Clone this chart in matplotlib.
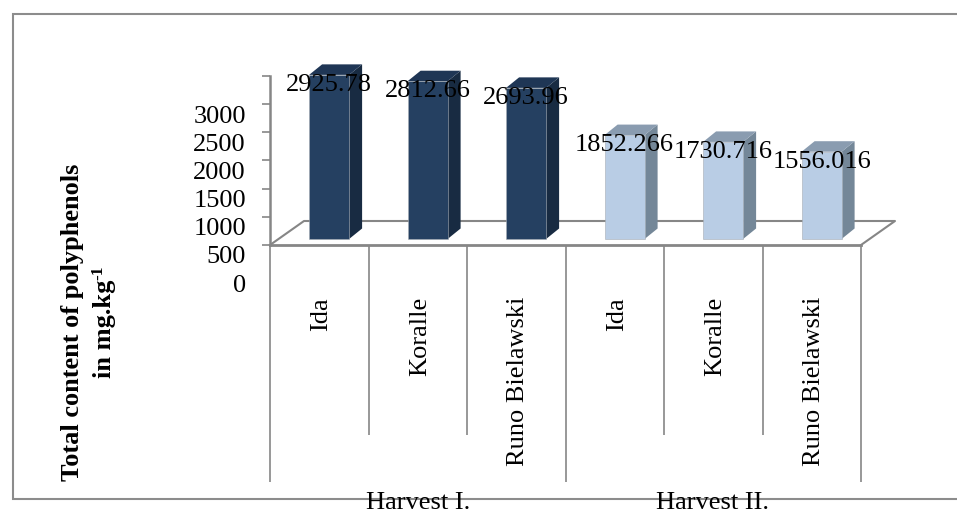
import matplotlib
matplotlib.use("Agg")
import matplotlib.pyplot as plt
import numpy as np
from matplotlib.patches import Polygon

plt.rcParams['font.family'] = ['Liberation Serif', 'DejaVu Serif']

cultivars = ['Ida', 'Koralle', 'Runo Bielawski', 'Ida', 'Koralle', 'Runo Bielawski']
harvests = ['Harvest I.', 'Harvest II.']
polyphenols = [2925.78, 2812.66, 2693.96, 1852.266, 1730.716, 1556.016]
value_labels = ['2925.78', '2812.66', '2693.96', '1852.266', '1730.716', '1556.016']
y_ticks = [0, 500, 1000, 1500, 2000, 2500, 3000]

W, H = 957, 511
GRAY = '#868686'
FS = 19

# front, side and top shades of the two harvest groups
dark = ('#254061', '#182B42', '#1F3655')
light = ('#B9CDE5', '#748798', '#8A9CB0')


def px_axes(left, top, right, bottom):
    return fig.add_axes([left / W, 1 - bottom / H, (right - left) / W, (bottom - top) / H])


fig = plt.figure(figsize=(W / 100, H / 100), dpi=100)

# pixel canvas for the frame, floor and category dividers
bg = fig.add_axes([0, 0, 1, 1], zorder=0)
bg.set_xlim(0, W)
bg.set_ylim(H, 0)
bg.axis('off')

bg.plot([W, 12.5, 12.5, W], [14.5, 14.5, 499, 499], color='#8c8c8c', lw=1.5, solid_joinstyle='miter')

x0, x1 = 270, 861
floor_y, back_y, skew = 245, 221, 34
bg.plot([x0, x0 + skew, x1 + skew, x1], [floor_y, back_y, back_y, floor_y], color=GRAY, lw=1.5)
bg.plot([x0, x1], [floor_y, floor_y], color=GRAY, lw=2)

cat_w = (x1 - x0) / 6
for i in range(7):
    end = 482.5 if i % 3 == 0 else 435
    bg.plot([x0 + i * cat_w] * 2, [floor_y, end], color=GRAY, lw=1.2, solid_capstyle='butt')

for i, name in enumerate(cultivars):
    bg.text(x0 + (i + 0.5) * cat_w + 2, 297, name, rotation=90, ha='center', va='top', fontsize=FS)

bg.text(418.5, 509, harvests[0], ha='center', va='baseline', fontsize=FS)
bg.text(713, 509, harvests[1], ha='center', va='baseline', fontsize=FS)

bg.text(73, 322, 'Total content of polyphenols', rotation=90, ha='center', va='center',
        fontsize=FS, fontweight='bold')
bg.text(105, 378, 'in mg.kg', rotation=90, ha='center', va='bottom', fontsize=FS, fontweight='bold')
bg.text(98, 280, '-1', rotation=90, ha='center', va='bottom', fontsize=12.5, fontweight='bold')

# value axis on the back wall, labels sit below their ticks
ax_y = px_axes(x0, 76, x0 + 1, floor_y)
ax_y.set_zorder(1)
ax_y.set_ylim(0, 3000)
ax_y.set_xticks([])
ax_y.set_yticks(y_ticks)
ax_y.set_yticklabels([])
ax_y.tick_params(axis='y', direction='out', length=6, width=1.2, color=GRAY)
for side in ['top', 'right', 'bottom']:
    ax_y.spines[side].set_visible(False)
ax_y.spines['left'].set_color(GRAY)
ax_y.spines['left'].set_linewidth(1.8)
ax_y.patch.set_alpha(0)
for t in y_ticks:
    ax_y.annotate(str(t), xy=(0, t), xycoords=('axes fraction', 'data'), xytext=(-17.3, -29.2),
                  textcoords='offset points', ha='right', va='center', fontsize=FS)

# bars: value 0 sits on the floor, 3000 is 168 px above it
ax = px_axes(x0, 239 - 168.3, x1, 239)
ax.set_zorder(2)
ax.set_xlim(-0.6, 5.4)
ax.set_ylim(0, 3000)
ax.axis('off')

positions = np.arange(len(polyphenols))
bar_w = 40 / cat_w
dx = 13 / cat_w
dy = 10.5 * 3000 / 168.3

for i, (pos, val) in enumerate(zip(positions, polyphenols)):
    front, side, top = dark if i < 3 else light
    r = pos + bar_w / 2
    l = pos - bar_w / 2
    ax.add_patch(Polygon([(r, 0), (r + dx, dy), (r + dx, val + dy), (r, val)], fc=side, ec='none', clip_on=False))
    ax.add_patch(Polygon([(l, val), (r, val), (r + dx, val + dy), (l + dx, val + dy)], fc=top, ec='none', clip_on=False))
    ax.bar(pos, val, width=bar_w, color=front, edgecolor='#A6ADB5', linewidth=0.4, clip_on=False)
    ax.annotate(value_labels[i], xy=(pos, val), xytext=(0, -7.2), textcoords='offset points',
                ha='center', va='center', fontsize=FS, annotation_clip=False)

fig.savefig('out.png', dpi=100)
plt.close(fig)
